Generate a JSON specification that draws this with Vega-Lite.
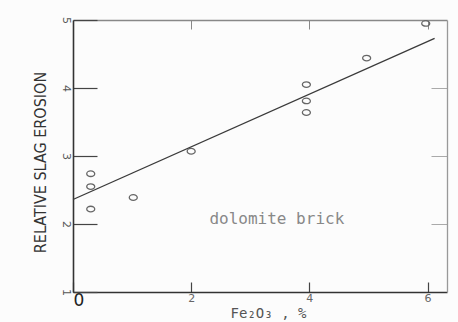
{
  "$schema": "https://vega.github.io/schema/vega-lite/v6.json",
  "autosize": "none",
  "padding": {"left": 73, "top": 20, "right": 11, "bottom": 30},
  "width": 374,
  "height": 272,
  "background": "#fcfcfc",
  "config": {"view": {"stroke": null}},
  "datasets": {
    "points": [
      {"fe2o3": 0.3, "erosion": 2.74},
      {"fe2o3": 0.3, "erosion": 2.55},
      {"fe2o3": 0.3, "erosion": 2.22},
      {"fe2o3": 1.02, "erosion": 2.39},
      {"fe2o3": 2.0, "erosion": 3.07},
      {"fe2o3": 3.95, "erosion": 4.05},
      {"fe2o3": 3.95, "erosion": 3.81},
      {"fe2o3": 3.95, "erosion": 3.64},
      {"fe2o3": 4.97, "erosion": 4.44},
      {"fe2o3": 5.97, "erosion": 4.95}
    ],
    "fit": [
      {"fe2o3": 0, "erosion": 2.36},
      {"fe2o3": 6.12, "erosion": 4.73}
    ],
    "notes": [
      {"fe2o3": 3.45, "erosion": 2.08, "label": "dolomite brick"}
    ]
  },
  "resolve": {"axis": {"x": "independent", "y": "independent"}},
  "layer": [
    {
      "data": {"name": "points"},
      "mark": {"type": "point", "shape": "M -1 0 A 1 0.7 0 1 0 1 0 A 1 0.7 0 1 0 -1 0 Z", "size": 64, "filled": false, "stroke": "#666", "strokeWidth": 1.3, "opacity": 1},
      "encoding": {
        "x": {"field": "fe2o3", "type": "quantitative", "scale": {"domain": [0, 6.33], "nice": false, "zero": false},
          "axis": {"orient": "bottom", "values": [0, 2, 4, 6], "title": "Fe₂O₃ ,  %", "titleFont": "DejaVu Sans Mono", "titleFontSize": 14, "titleFontWeight": "normal", "titleColor": "#555",
            "titleX": 195, "titleY": 25, "titleAlign": "center", "titleBaseline": "alphabetic",
            "domainColor": "#333", "domainWidth": 1.6, "tickColor": "#444", "tickWidth": 1.2, "tickSize": -10, "grid": false,
            "labelFont": "DejaVu Sans", "labelColor": {"condition": {"test": "datum.value == 0", "value": "#222"}, "value": "#666"},
            "labelFontSize": {"condition": {"test": "datum.value == 0", "value": 17}, "value": 11}, "labelPadding": 10}},
        "y": {"field": "erosion", "type": "quantitative", "scale": {"domain": [1, 5], "nice": false, "zero": false},
          "axis": {"orient": "left", "values": [1, 2, 3, 4, 5], "title": "RELATIVE SLAG EROSION", "titleFont": "DejaVu Sans Condensed, DejaVu Sans", "titleFontSize": 16, "titleFontWeight": "normal", "titleColor": "#333",
            "titleX": -33, "titleY": 142, "titleAlign": "center", "titleBaseline": "middle", "titleAngle": -90,
            "domainColor": "#333", "domainWidth": 1.6, "tickColor": "#444", "tickWidth": 1.2, "tickSize": -24, "grid": false,
            "labelFont": "DejaVu Sans", "labelFontSize": 11, "labelColor": "#555", "labelPadding": 32,
            "labelAngle": 90, "labelAlign": "center", "labelBaseline": "middle"}}
      }
    },
    {
      "data": {"name": "fit"},
      "mark": {"type": "line", "color": "#3a3a3a", "strokeWidth": 1.3},
      "encoding": {
        "x": {"field": "fe2o3", "type": "quantitative",
          "axis": {"orient": "top", "values": [2, 4, 6], "title": null, "labels": false, "domainColor": "#888", "domainWidth": 1.3, "tickColor": "#888", "tickSize": -9, "grid": false}},
        "y": {"field": "erosion", "type": "quantitative",
          "axis": {"orient": "right", "values": [2, 3, 4], "title": null, "labels": false, "domainColor": "#999", "domainWidth": 1.3, "tickColor": "#aaa", "tickSize": -16, "grid": false}}
      }
    },
    {
      "data": {"name": "notes"},
      "mark": {"type": "text", "font": "DejaVu Sans Mono", "fontSize": 16, "color": "#888", "align": "center", "baseline": "middle"},
      "encoding": {
        "x": {"field": "fe2o3", "type": "quantitative", "axis": null},
        "y": {"field": "erosion", "type": "quantitative", "axis": null},
        "text": {"field": "label"}
      }
    }
  ]
}
